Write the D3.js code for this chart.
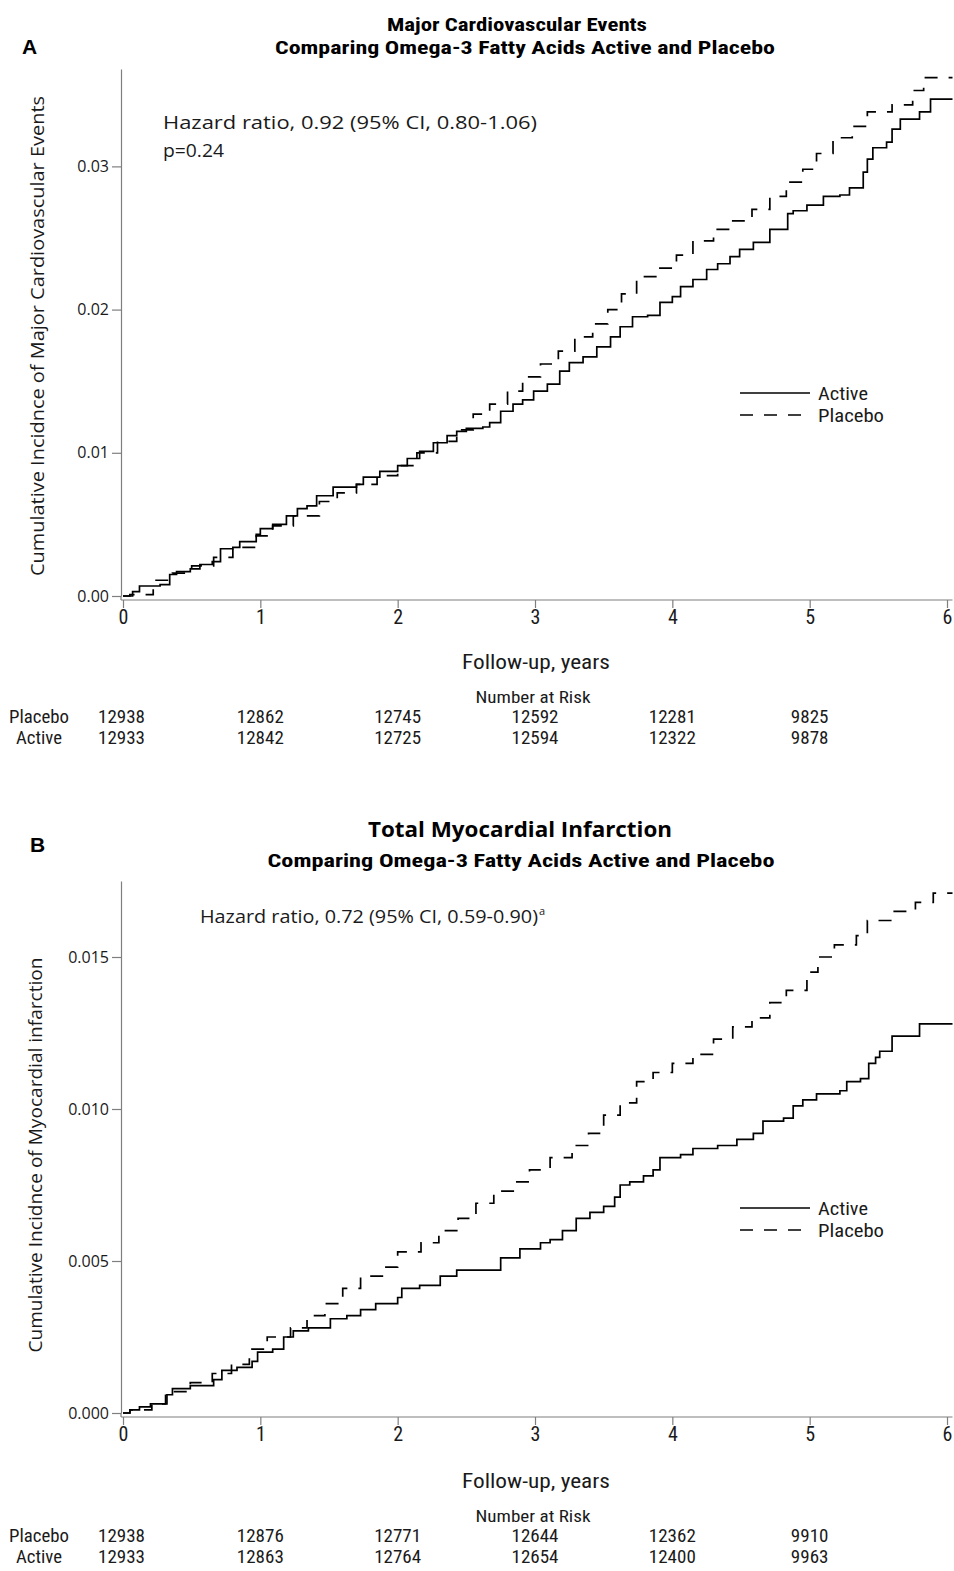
<!DOCTYPE html>
<html>
<head>
<meta charset="utf-8">
<script src="https://cdn.jsdelivr.net/npm/d3@7"></script>
<style>
  html, body { margin: 0; padding: 0; background: #fff; }
  svg { display: block; }
  .narrow { font-family: "Liberation Sans Narrow", "Arial Narrow", "Roboto Condensed", "Liberation Sans", Arial, sans-serif; }
  .segoe { font-family: "Open Sans", "Noto Sans", "DejaVu Sans", sans-serif; }
</style>
</head>
<body>
<svg id="chart" width="954" height="1571"></svg>
<script>
// ---------------- DATA ----------------
const xTicks = [0, 1, 2, 3, 4, 5, 6];
const riskTimes = [0, 1, 2, 3, 4, 5];
const groups = ["Placebo", "Active"];

// Panel A: Major Cardiovascular Events  [years, cumulative incidence]
const mceActive = [[0,0],[0.07,0.0003],[0.12,0.0007],[0.27,0.0008],[0.34,0.0015],[0.39,0.0017],[0.49,0.0019],[0.56,0.0022],[0.65,0.0024],[0.71,0.0033],[0.80,0.0034],[0.85,0.0038],[0.97,0.0043],[1.00,0.0047],[1.09,0.0050],[1.19,0.0056],[1.27,0.0061],[1.34,0.0063],[1.41,0.0070],[1.53,0.0076],[1.70,0.0078],[1.75,0.0083],[1.87,0.0087],[2.00,0.0091],[2.07,0.0096],[2.16,0.0101],[2.26,0.0107],[2.36,0.0112],[2.43,0.0115],[2.50,0.0117],[2.62,0.0118],[2.67,0.0121],[2.75,0.0129],[2.84,0.0134],[2.91,0.0137],[2.99,0.0143],[3.09,0.0148],[3.18,0.0157],[3.25,0.0163],[3.35,0.0167],[3.45,0.0174],[3.55,0.0181],[3.62,0.0188],[3.71,0.0195],[3.82,0.0196],[3.91,0.0205],[4.00,0.0209],[4.06,0.0216],[4.15,0.0221],[4.25,0.0228],[4.33,0.0232],[4.42,0.0237],[4.49,0.0242],[4.59,0.0247],[4.71,0.0256],[4.84,0.0267],[4.88,0.0269],[4.98,0.0273],[5.10,0.0279],[5.22,0.0280],[5.29,0.0285],[5.39,0.0296],[5.42,0.0305],[5.46,0.0313],[5.56,0.0317],[5.60,0.0326],[5.66,0.0333],[5.80,0.0338],[5.88,0.0347],[6.04,0.0347]];
const mcePlacebo = [[0,0],[0.05,0.0001],[0.22,0.0011],[0.36,0.0016],[0.50,0.0021],[0.66,0.0027],[0.80,0.0034],[0.97,0.0042],[1.09,0.0049],[1.24,0.0056],[1.43,0.0066],[1.56,0.0072],[1.70,0.0078],[1.85,0.0084],[2.00,0.0091],[2.14,0.0100],[2.29,0.0108],[2.43,0.0116],[2.55,0.0127],[2.67,0.0134],[2.80,0.0143],[2.91,0.0153],[3.04,0.0162],[3.17,0.0171],[3.29,0.0181],[3.42,0.0190],[3.53,0.0200],[3.63,0.0211],[3.74,0.0223],[3.89,0.0229],[4.03,0.0238],[4.15,0.0248],[4.30,0.0256],[4.44,0.0262],[4.58,0.0270],[4.71,0.0279],[4.83,0.0289],[4.95,0.0298],[5.05,0.0309],[5.17,0.0320],[5.31,0.0328],[5.42,0.0338],[5.60,0.0343],[5.75,0.0353],[5.83,0.0362],[6.04,0.0362]];
const mceYTicks = [0, 0.01, 0.02, 0.03];
const mceRiskPlacebo = [12938, 12862, 12745, 12592, 12281, 9825];
const mceRiskActive  = [12933, 12842, 12725, 12594, 12322, 9878];

// Panel B: Total Myocardial Infarction
const miActive = [[0,0],[0.05,0.0001],[0.12,0.0002],[0.20,0.0003],[0.32,0.0006],[0.36,0.0008],[0.49,0.0009],[0.66,0.0011],[0.72,0.0014],[0.83,0.0015],[0.94,0.0017],[0.98,0.0020],[1.09,0.0021],[1.17,0.0025],[1.24,0.0027],[1.35,0.0028],[1.51,0.0031],[1.63,0.0032],[1.73,0.0034],[1.84,0.0036],[2.00,0.0038],[2.03,0.0041],[2.16,0.0042],[2.31,0.0045],[2.43,0.0047],[2.75,0.0051],[2.89,0.0054],[3.04,0.0056],[3.11,0.0057],[3.20,0.0060],[3.30,0.0064],[3.40,0.0066],[3.50,0.0068],[3.58,0.0071],[3.62,0.0075],[3.69,0.0076],[3.79,0.0078],[3.86,0.0080],[3.91,0.0084],[4.06,0.0085],[4.15,0.0087],[4.33,0.0088],[4.47,0.0090],[4.59,0.0092],[4.66,0.0096],[4.81,0.0097],[4.88,0.0101],[4.95,0.0103],[5.05,0.0105],[5.22,0.0106],[5.27,0.0109],[5.37,0.0110],[5.43,0.0115],[5.48,0.0117],[5.51,0.0119],[5.60,0.0124],[5.80,0.0128],[6.04,0.0128]];
const miPlacebo = [[0,0],[0.05,0.0001],[0.21,0.0003],[0.31,0.0007],[0.49,0.0010],[0.65,0.0013],[0.79,0.0016],[0.92,0.0021],[1.05,0.0025],[1.22,0.0028],[1.34,0.0032],[1.47,0.0036],[1.60,0.0041],[1.73,0.0045],[1.90,0.0048],[2.00,0.0053],[2.17,0.0056],[2.30,0.0060],[2.44,0.0064],[2.57,0.0069],[2.70,0.0073],[2.85,0.0076],[2.96,0.0080],[3.11,0.0084],[3.27,0.0088],[3.39,0.0092],[3.50,0.0098],[3.62,0.0102],[3.74,0.0109],[3.86,0.0112],[4.00,0.0115],[4.15,0.0118],[4.30,0.0123],[4.44,0.0127],[4.58,0.0130],[4.71,0.0135],[4.83,0.0139],[4.98,0.0145],[5.06,0.0150],[5.18,0.0154],[5.34,0.0157],[5.42,0.0162],[5.59,0.0165],[5.77,0.0168],[5.90,0.0171],[6.04,0.0171]];
const miYTicks = [0, 0.005, 0.010, 0.015];
const miRiskPlacebo = [12938, 12876, 12771, 12644, 12362, 9910];
const miRiskActive  = [12933, 12863, 12764, 12654, 12400, 9963];

// ---------------- DRAW ----------------
const svg = d3.select("#chart");
const AXIS_COLOR = "#7f7f7f";
const TEXT_COLOR = "#1a1a1a";

function drawPanel(cfg) {
  const g = svg.append("g");
  const x = d3.scaleLinear().domain([0, 6.04]).range([123, 952.5]);
  const y = d3.scaleLinear().domain([0, cfg.yMax]).range([cfg.y0, cfg.yTop]);
  const axisY = cfg.y0 + 4;

  // panel letter
  g.append("text").attr("x", cfg.letterX).attr("y", cfg.letterY)
    .attr("font-family", "Liberation Sans, Arial, sans-serif").attr("font-weight", "bold")
    .attr("font-size", 21).attr("fill", "#000").text(cfg.letter);

  // titles
  g.append("text").attr("class", cfg.titleClass).attr("x", cfg.titleCx).attr("y", cfg.title1Y)
    .attr("text-anchor", "middle").attr("font-weight", "bold").attr("font-size", cfg.title1Size)
    .attr("textLength", cfg.title1W).attr("lengthAdjust", "spacingAndGlyphs")
    .attr("fill", "#000").text(cfg.title1);
  g.append("text").attr("class", "narrow").attr("x", cfg.title2Cx).attr("y", cfg.title2Y)
    .attr("text-anchor", "middle").attr("font-weight", "bold").attr("font-size", 19)
    .attr("textLength", cfg.title2W).attr("lengthAdjust", "spacingAndGlyphs")
    .attr("fill", "#000").text("Comparing Omega-3 Fatty Acids Active and Placebo");

  // y axis
  const yAxis = d3.axisLeft(y).tickValues(cfg.yTicks).tickFormat(d3.format(cfg.yFmt))
    .tickSize(9).tickPadding(3).tickSizeOuter(0);
  const gy = g.append("g").attr("transform", "translate(121,0)").call(yAxis);
  gy.select(".domain").attr("stroke", AXIS_COLOR).attr("stroke-width", 1.2);
  gy.selectAll(".tick line").attr("stroke", AXIS_COLOR).attr("stroke-width", 1.2);
  gy.selectAll(".tick text").attr("class", "segoe").attr("font-size", 16).attr("fill", TEXT_COLOR);
  g.append("line").attr("x1", 121).attr("x2", 121).attr("y1", cfg.y0).attr("y2", axisY)
    .attr("stroke", AXIS_COLOR).attr("stroke-width", 1.2);

  // x axis
  const xAxis = d3.axisBottom(x).tickValues(xTicks).tickFormat(d3.format("d"))
    .tickSize(8).tickPadding(2).tickSizeOuter(0);
  const gx = g.append("g").attr("transform", `translate(0,${axisY})`).call(xAxis);
  gx.select(".domain").attr("stroke", AXIS_COLOR).attr("stroke-width", 1.2)
    .attr("d", `M121,0H952.5`);
  gx.selectAll(".tick line").attr("stroke", AXIS_COLOR).attr("stroke-width", 1.2);
  gx.selectAll(".tick text").attr("class", "narrow").attr("font-size", 20).attr("fill", TEXT_COLOR);

  // y label
  g.append("text").attr("class", "segoe")
    .attr("transform", `translate(${cfg.yLabelX},${cfg.yLabelCy}) rotate(-90)`)
    .attr("text-anchor", "middle").attr("font-size", 18.5).attr("fill", TEXT_COLOR)
    .attr("textLength", cfg.yLabelW).attr("lengthAdjust", "spacingAndGlyphs")
    .text(cfg.yLabel);

  // x label
  g.append("text").attr("class", "narrow").attr("x", 536).attr("y", cfg.xLabelY)
    .attr("text-anchor", "middle").attr("font-size", 20).attr("fill", TEXT_COLOR)
    .attr("textLength", 148).attr("lengthAdjust", "spacingAndGlyphs")
    .text("Follow-up, years");

  // annotation
  const ann = g.append("text").attr("class", "segoe").attr("x", cfg.annX).attr("y", cfg.annY)
    .attr("font-size", cfg.annSize).attr("fill", TEXT_COLOR);
  ann.append("tspan").attr("textLength", cfg.annW).attr("lengthAdjust", "spacingAndGlyphs").text(cfg.ann);
  if (cfg.annSup) ann.append("tspan").attr("dx", 1).attr("dy", -8).attr("font-size", 11).text(cfg.annSup);
  if (cfg.ann2) {
    g.append("text").attr("class", "segoe").attr("x", cfg.annX).attr("y", cfg.annY + 28)
      .attr("font-size", cfg.annSize).attr("fill", TEXT_COLOR)
      .attr("textLength", 61).attr("lengthAdjust", "spacingAndGlyphs").text(cfg.ann2);
  }

  // curves
  const line = d3.line().x(d => x(d[0])).y(d => y(d[1])).curve(d3.curveStepAfter);
  g.append("path").datum(cfg.active).attr("d", line)
    .attr("fill", "none").attr("stroke", "#000").attr("stroke-width", 1.7);
  g.append("path").datum(cfg.placebo).attr("d", line)
    .attr("fill", "none").attr("stroke", "#000").attr("stroke-width", 1.7)
    .attr("stroke-dasharray", "13,11");

  // legend
  const lg = g.append("g");
  [["Active", null, 50], ["Placebo", "13,11", 66]].forEach((it, i) => {
    const ly = cfg.legendY + i * 22;
    lg.append("line").attr("x1", 740).attr("x2", 810).attr("y1", ly).attr("y2", ly)
      .attr("stroke", "#000").attr("stroke-width", 1.3)
      .attr("stroke-dasharray", it[1]);
    lg.append("text").attr("class", "narrow").attr("x", 818).attr("y", ly + 7)
      .attr("font-size", 18.5).attr("fill", TEXT_COLOR)
      .attr("textLength", it[2]).attr("lengthAdjust", "spacingAndGlyphs").text(it[0]);
  });

  // number at risk
  g.append("text").attr("class", "narrow").attr("x", 533).attr("y", cfg.narY)
    .attr("text-anchor", "middle").attr("font-size", 17).attr("fill", TEXT_COLOR)
    .attr("textLength", 115).attr("lengthAdjust", "spacingAndGlyphs")
    .text("Number at Risk");
  const rows = [cfg.riskPlacebo, cfg.riskActive];
  const labelW = [60, 46];
  groups.forEach((grp, i) => {
    const ry = cfg.narY + 20 + i * 21;
    g.append("text").attr("class", "narrow").attr("x", 39).attr("y", ry)
      .attr("text-anchor", "middle").attr("font-size", 17.5).attr("fill", TEXT_COLOR)
      .attr("textLength", labelW[i]).attr("lengthAdjust", "spacingAndGlyphs").text(grp);
    g.selectAll(null).data(riskTimes).enter().append("text")
      .attr("class", "narrow")
      .attr("x", (t, j) => x(t) - (j === 0 ? 1.5 : 0))
      .attr("y", ry).attr("text-anchor", "middle").attr("font-size", 17.5).attr("fill", TEXT_COLOR)
      .attr("textLength", (t, j) => String(rows[i][j]).length * 9.4)
      .attr("lengthAdjust", "spacingAndGlyphs")
      .text((t, j) => rows[i][j]);
  });
}

drawPanel({
  letter: "A", letterX: 22, letterY: 54,
  titleClass: "narrow", title1: "Major Cardiovascular Events", title1Size: 19, title1W: 260,
  titleCx: 517, title1Y: 31, title2Cx: 525, title2Y: 54, title2W: 500,
  yMax: 0.0368, y0: 596, yTop: 69, yTicks: mceYTicks, yFmt: ".2f",
  yLabel: "Cumulative Incidnce of Major Cardiovascular Events", yLabelX: 44, yLabelCy: 336, yLabelW: 480,
  xLabelY: 669,
  ann: "Hazard ratio, 0.92 (95% CI, 0.80-1.06)", ann2: "p=0.24", annX: 163, annY: 129, annSize: 19, annW: 374,
  active: mceActive, placebo: mcePlacebo,
  legendY: 393, narY: 703,
  riskPlacebo: mceRiskPlacebo, riskActive: mceRiskActive
});

drawPanel({
  letter: "B", letterX: 30, letterY: 852,
  titleClass: "segoe", title1: "Total Myocardial Infarction", title1Size: 20.5, title1W: 304,
  titleCx: 520, title1Y: 837, title2Cx: 521, title2Y: 867, title2W: 507,
  yMax: 0.0175, y0: 1413, yTop: 881, yTicks: miYTicks, yFmt: ".3f",
  yLabel: "Cumulative Incidnce of Myocardial infarction", yLabelX: 42, yLabelCy: 1155, yLabelW: 395,
  xLabelY: 1488,
  ann: "Hazard ratio, 0.72 (95% CI, 0.59-0.90)", annSup: "a", annX: 200, annY: 923, annSize: 18, annW: 338,
  active: miActive, placebo: miPlacebo,
  legendY: 1208, narY: 1522,
  riskPlacebo: miRiskPlacebo, riskActive: miRiskActive
});
</script>
</body>
</html>
